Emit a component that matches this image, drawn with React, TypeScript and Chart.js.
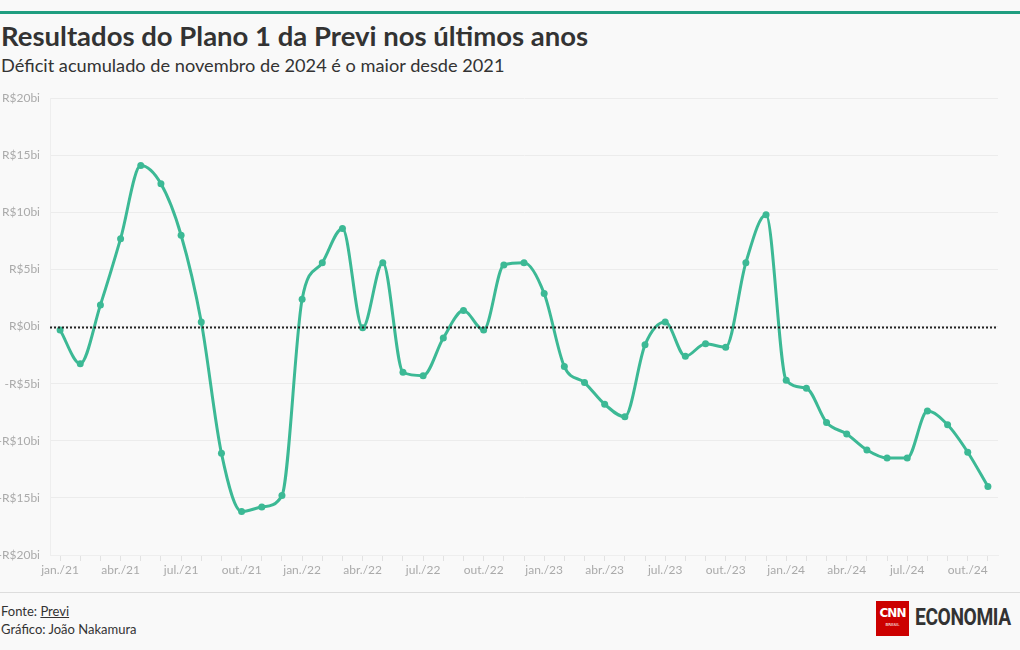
import React, { useEffect, useRef } from "react";
import { Chart, registerables } from "chart.js";

Chart.register(...registerables);

const months = ["jan.", "fev.", "mar.", "abr.", "mai.", "jun.", "jul.", "ago.", "set.", "out.", "nov.", "dez."];
const years = ["21", "22", "23", "24"];
const categories: string[] = [];
years.forEach((y) => months.forEach((m) => categories.push(`${m}/${y}`)));
const labels = categories.slice(0, 47);

const resultados = [
  -0.3, -3.25, 1.9, 7.7, 14.1, 12.5, 8.0, 0.4, -11.1, -16.2, -15.8, -14.8,
  2.4, 5.6, 8.6, -0.1, 5.6, -4.0, -4.3, -1.0, 1.4, -0.3, 5.4, 5.6,
  2.9, -3.5, -4.9, -6.8, -7.9, -1.6, 0.4, -2.6, -1.5, -1.8, 5.6, 9.8,
  -4.7, -5.4, -8.4, -9.4, -10.8, -11.5, -11.5, -7.4, -8.6, -11.0, -14.0,
];

const yTicks = [-20, -15, -10, -5, 0, 5, 10, 15, 20];

const FONT = "Lato, 'Noto Sans', sans-serif";
const LINE = "#3cb995";

const zeroLine = {
  id: "zeroLine",
  afterDatasetsDraw(chart: any) {
    const { ctx, chartArea, scales } = chart;
    const y = scales.y.getPixelForValue(0);
    ctx.save();
    ctx.beginPath();
    ctx.setLineDash([2, 2]);
    ctx.strokeStyle = "#222";
    ctx.lineWidth = 2;
    ctx.moveTo(chartArea.left, Math.round(y) + 0.5);
    ctx.lineTo(chartArea.right, Math.round(y) + 0.5);
    ctx.stroke();
    ctx.restore();
  },
};

export default function App() {
  const ref = useRef<HTMLCanvasElement>(null);
  useEffect(() => {
    document.body.style.margin = "0";
    const chart = new Chart(ref.current!, {
      type: "line",
      data: {
        labels,
        datasets: [
          {
            data: resultados,
            borderColor: LINE,
            backgroundColor: LINE,
            borderWidth: 3,
            pointRadius: 3.5,
            pointBackgroundColor: LINE,
            pointBorderWidth: 0,
            cubicInterpolationMode: "monotone",
          },
        ],
      },
      options: {
        animation: false,
        responsive: false,
        maintainAspectRatio: false,
        layout: { padding: { top: 8, right: 22, left: 0, bottom: 0 } },
        plugins: { legend: { display: false }, tooltip: { enabled: false } },
        scales: {
          x: {
            offset: true,
            grid: {
              drawOnChartArea: false,
              drawTicks: true,
              tickLength: 6,
              color: "#e2e2e2",
              offset: false,
            },
            border: { display: true, color: "#eeeeee" },
            ticks: {
              autoSkip: false,
              maxRotation: 0,
              color: "#aaaaaa",
              font: { family: FONT, size: 12 },
              padding: 2,
              callback: (_v: any, i: number) => (i % 3 === 0 ? labels[i] : ""),
            },
            afterFit: (s: any) => {
              s.height = 32;
            },
          },
          y: {
            min: -20,
            max: 20,
            afterBuildTicks: (s: any) => {
              s.ticks = yTicks.map((v) => ({ value: v }));
            },
            grid: { color: "#ececec", drawTicks: false, lineWidth: 1 },
            border: { display: true, color: "#eeeeee" },
            ticks: {
              color: "#aaaaaa",
              font: { family: FONT, size: 12 },
              padding: 10,
              callback: (v: any) => (v < 0 ? `-R$${Math.abs(v)}bi` : `R$${v}bi`),
            },
            afterFit: (s: any) => {
              s.width = 50;
            },
          },
        },
      },
      plugins: [zeroLine],
    });
    return () => chart.destroy();
  }, []);

  return (
    <div
      style={{
        position: "absolute",
        left: 0,
        top: 0,
        width: 1020,
        height: 650,
        background: "#f9f9f9",
        fontFamily: FONT,
        overflow: "hidden",
      }}
    >
      <div style={{ position: "absolute", left: 0, top: 11, width: 1020, height: 3, background: "#1f9e80" }} />
      <div
        style={{
          position: "absolute",
          left: 1,
          top: 19,
          fontSize: 27.5,
          fontWeight: 700,
          color: "#333333",
          whiteSpace: "nowrap",
        }}
      >
        Resultados do Plano 1 da Previ nos últimos anos
      </div>
      <div
        style={{
          position: "absolute",
          left: 1,
          top: 54,
          fontSize: 18.2,
          color: "#333333",
          whiteSpace: "nowrap",
        }}
      >
        Déficit acumulado de novembro de 2024 é o maior desde 2021
      </div>
      <canvas
        ref={ref}
        width={1020}
        height={506}
        style={{ position: "absolute", left: 0, top: 81, width: 1020, height: 506 }}
      />
      <div style={{ position: "absolute", left: 0, top: 592, width: 1020, height: 1, background: "#dddddd" }} />
      <div style={{ position: "absolute", left: 1, top: 602, fontSize: 13, color: "#333", lineHeight: "18px" }}>
        Fonte: <span style={{ textDecoration: "underline" }}>Previ</span>
        <br />
        Gráfico: João Nakamura
      </div>
      <div
        style={{
          position: "absolute",
          left: 876,
          top: 601,
          width: 33,
          height: 35,
          background: "#cc0000",
          color: "#fff",
          textAlign: "center",
          fontFamily: "'DejaVu Sans', sans-serif",
        }}
      >
        <div style={{ fontSize: 12, fontWeight: 700, marginTop: 5, letterSpacing: -1 }}>CNN</div>
        <div style={{ fontSize: 4, marginTop: 2 }}>BRASIL</div>
      </div>
      <div
        style={{
          position: "absolute",
          left: 915,
          top: 603,
          fontSize: 24,
          fontWeight: 700,
          color: "#333",
          fontFamily: "'Liberation Sans Narrow', 'Roboto', sans-serif",
          letterSpacing: -0.5,
          whiteSpace: "nowrap",
          transform: "scaleX(0.8)",
          transformOrigin: "left",
        }}
      >
        ECONOMIA
      </div>
    </div>
  );
}
